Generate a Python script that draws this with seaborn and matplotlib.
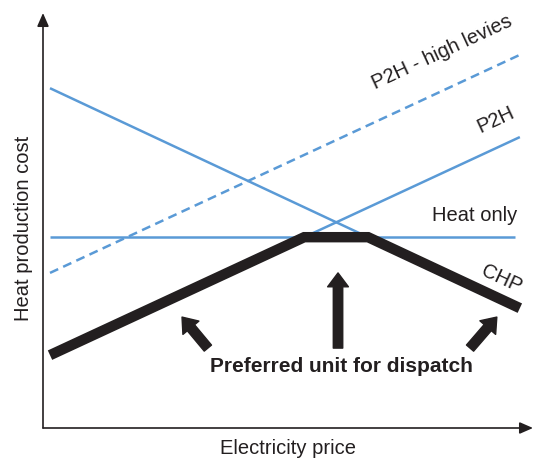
import numpy as np
import pandas as pd
import matplotlib
matplotlib.use("Agg")
import matplotlib.pyplot as plt
import seaborn as sns

sns.set_style("white")
plt.rcParams['font.family'] = ['Liberation Sans', 'DejaVu Sans']

# Data (electricity price -> heat production cost), arbitrary units
price = [0.0, 10.0]
p2h = [1.55, 6.19]
p2h_high = [3.30, 7.94]
chp = [7.23, 2.55]
heat_only = [4.06, 4.06]

# Visible parts of thin lines
p2h_vis_x = [5.41, 10.0]
p2h_vis_y = [4.06, 6.19]
chp_vis_x = [0.0, 6.77]
chp_vis_y = [7.23, 4.06]
heat_vis_x = [0.0, 9.89]
heat_vis_y = [4.06, 4.06]

# Preferred unit envelope
pref_x = [0.0, 5.41, 6.77, 10.0]
pref_y = [1.55, 4.06, 4.06, 2.55]

blue = "#5a9ad6"
ink = "#231f20"

W, H = 536, 459
fig = plt.figure(figsize=(W / 100, H / 100), dpi=100)
x0, x1, y0, y1 = 43, 533, 13, 428
ax = fig.add_axes([x0 / W, 1 - y1 / H, (x1 - x0) / W, (y1 - y0) / H])
ax.set_xlim(-0.149, 10.28)
ax.set_ylim(0, 8.83)

sns.lineplot(x=heat_vis_x, y=heat_vis_y, ax=ax, color=blue, lw=1.8, solid_capstyle="butt")
sns.lineplot(x=chp_vis_x, y=chp_vis_y, ax=ax, color=blue, lw=1.8, solid_capstyle="butt")
sns.lineplot(x=p2h_vis_x, y=p2h_vis_y, ax=ax, color=blue, lw=1.8, solid_capstyle="butt")
sns.lineplot(x=price, y=p2h_high, ax=ax, color=blue, lw=1.8, linestyle=(0, (3.6, 2.2)))
sns.lineplot(x=pref_x, y=pref_y, ax=ax, color=ink, lw=7.5, solid_capstyle="butt", solid_joinstyle="miter")

for s in ax.spines.values():
    s.set_visible(False)
ax.set_xticks([])
ax.set_yticks([])

# axis arrows
ax.annotate("", xy=(1, 0), xytext=(0, 0), xycoords="axes fraction",
            arrowprops=dict(arrowstyle="-|>,head_length=0.8,head_width=0.35", color=ink, lw=1.2, shrinkA=0, shrinkB=0))
ax.annotate("", xy=(0, 1), xytext=(0, 0), xycoords="axes fraction",
            arrowprops=dict(arrowstyle="-|>,head_length=0.8,head_width=0.35", color=ink, lw=1.2, shrinkA=0, shrinkB=0))

fs = 14.5
fig.text(288 / W, 1 - 448 / H, "Electricity price", ha="center", va="center", fontsize=fs, color=ink)
fig.text(24 / W, 1 - 228 / H, "Heat production cost", ha="center", va="center", rotation=90, fontsize=fs, color=ink)

# line labels
ang = np.degrees(np.arctan(0.464))
ax.text(9.9, 8.5, "P2H - high levies", rotation=ang, ha="right", va="bottom", fontsize=fs, rotation_mode="anchor", color=ink)
ax.text(9.95, 6.55, "P2H", rotation=ang, ha="right", va="bottom", fontsize=fs, rotation_mode="anchor", color=ink)
ax.text(9.95, 4.32, "Heat only", ha="right", va="bottom", fontsize=fs, color=ink)
ax.text(9.12, 3.17, "CHP", rotation=-ang, ha="left", va="bottom", fontsize=fs, rotation_mode="anchor", color=ink)

ax.text(6.2, 1.31, "Preferred unit for dispatch", ha="center", va="center", fontsize=15, fontweight="bold", color=ink)

aprops = dict(arrowstyle="simple,head_length=1.0,head_width=1.5,tail_width=0.68", color=ink, shrinkA=0, shrinkB=0, mutation_scale=10)
ax.annotate("", xy=(2.81, 2.36), xytext=(3.36, 1.70), arrowprops=aprops)
ax.annotate("", xy=(6.13, 3.30), xytext=(6.13, 1.70), arrowprops=aprops)
ax.annotate("", xy=(9.51, 2.36), xytext=(8.94, 1.70), arrowprops=aprops)

fig.savefig("out.png", dpi=100)
